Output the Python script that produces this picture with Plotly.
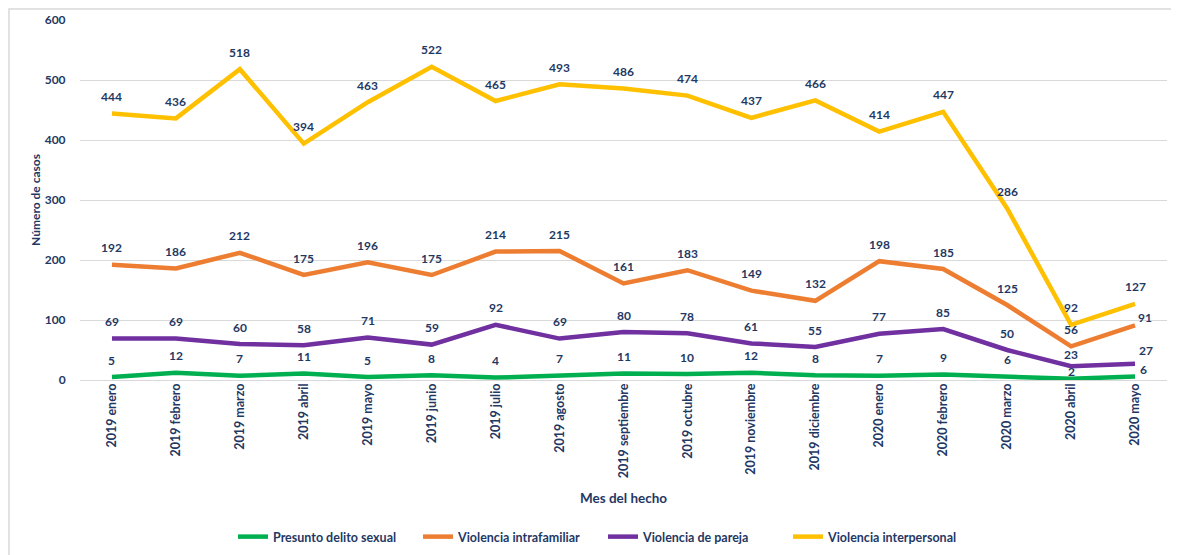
import plotly.graph_objects as go

months = ["2019 enero", "2019 febrero", "2019 marzo", "2019 abril", "2019 mayo",
          "2019 junio", "2019 julio", "2019 agosto", "2019 septiembre", "2019 octubre",
          "2019 noviembre", "2019 diciembre", "2020 enero", "2020 febrero",
          "2020 marzo", "2020 abril", "2020 mayo"]

delito_sexual = [5, 12, 7, 11, 5, 8, 4, 7, 11, 10, 12, 8, 7, 9, 6, 2, 6]
intrafamiliar = [192, 186, 212, 175, 196, 175, 214, 215, 161, 183, 149, 132, 198, 185, 125, 56, 91]
pareja = [69, 69, 60, 58, 71, 59, 92, 69, 80, 78, 61, 55, 77, 85, 50, 23, 27]
interpersonal = [444, 436, 518, 394, 463, 522, 465, 493, 486, 474, 437, 466, 414, 447, 286, 92, 127]

series = [
    ("Presunto delito sexual", delito_sexual, "#00B050"),
    ("Violencia intrafamiliar", intrafamiliar, "#ED7D31"),
    ("Violencia de pareja", pareja, "#7030A0"),
    ("Violencia interpersonal", interpersonal, "#FFC000"),
]

NAVY = "#1F3864"
FONT = "Lato"

# label placement tweaks (xshift, yshift) by (series, index)
label_shift = {
    ("Presunto delito sexual", 15): (0, 7),
    ("Presunto delito sexual", 16): (8, 7),
    ("Violencia de pareja", 15): (0, 12),
    ("Violencia de pareja", 16): (11, 13),
    ("Violencia intrafamiliar", 16): (10, 8),
}

fig = go.Figure()
annotations = []
for name, vals, color in series:
    fig.add_trace(go.Scatter(
        x=months, y=vals, mode="lines", name=name,
        line=dict(color=color, width=4.5),
    ))
    for i, (m, v) in enumerate(zip(months, vals)):
        xs, ys = label_shift.get((name, i), (0, 17))
        annotations.append(dict(
            x=m, y=v, text=str(v), showarrow=False,
            xshift=xs, yshift=ys,
            font=dict(family=FONT, size=12, color=NAVY, weight="bold"),
        ))

# page body has an 8px margin: figure is sized to fit the window
OFF = 8
W, H = 1179 - OFF, 555 - OFF
ml, mr, mt, mb = 72, 12, 12, 175
pw, ph = W - ml - mr, H - mt - mb

def px(xs):  # screen x -> paper
    return (xs - OFF - ml) / pw

def py(ys):  # screen y -> paper
    return (H - mb - (ys - OFF)) / ph

fig.update_layout(
    width=W, height=H,
    margin=dict(l=ml, r=mr, t=mt, b=mb, autoexpand=False),
    paper_bgcolor="white", plot_bgcolor="white",
    annotations=annotations,
    showlegend=True,
    legend=dict(
        orientation="h", x=px(603), xanchor="center", y=py(537), yanchor="middle",
        font=dict(family=FONT, size=12.5, color=NAVY, weight="bold"),
        itemwidth=30, tracegroupgap=0, entrywidth=140, entrywidthmode="pixels",
    ),
    xaxis=dict(
        type="category", range=[-0.5, 16.5], automargin=False,
        tickangle=-90, showgrid=False, showline=False, ticks="",
        tickfont=dict(family=FONT, size=12.5, color=NAVY, weight="bold"),
        title=dict(text="Mes del hecho", standoff=16,
                   font=dict(family=FONT, size=13.5, color=NAVY, weight="bold")),
    ),
    yaxis=dict(
        range=[0, 600], dtick=100, showgrid=True, gridcolor="#D9D9D9", gridwidth=1,
        zeroline=True, zerolinecolor="#D9D9D9", zerolinewidth=1, automargin=False,
        showline=False, ticks="outside", ticklen=11, tickcolor="rgba(0,0,0,0)",
        tickfont=dict(family=FONT, size=12, color=NAVY, weight="bold"),
        title=dict(text="Número de casos", standoff=1,
                   font=dict(family=FONT, size=12, color=NAVY, weight="bold")),
    ),
    shapes=[dict(
        type="rect", xref="paper", yref="paper",
        x0=px(9), x1=px(1200), y0=py(580), y1=py(9),
        line=dict(color="#D9D9D9", width=1.5), fillcolor="rgba(0,0,0,0)", layer="below",
    )],
)

fig.write_html("out.html")
